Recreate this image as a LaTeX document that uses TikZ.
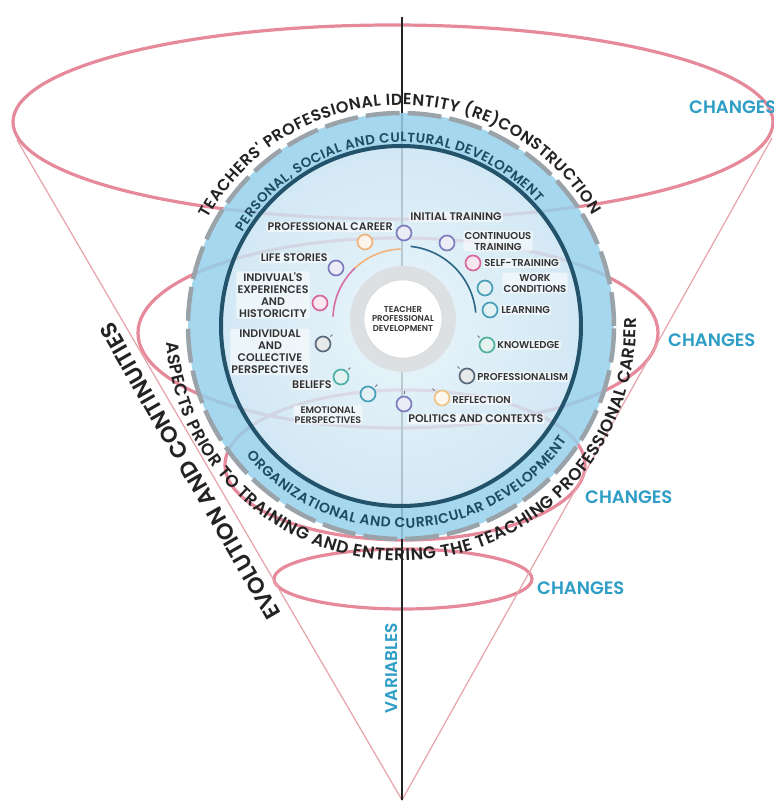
\documentclass[tikz,border=0pt]{standalone}
\usepackage{fontspec}
\setmainfont{Poppins}
\newfontfamily\semib{Poppins SemiBold}
\usetikzlibrary{decorations.text}

\definecolor{ringred}{HTML}{E6899A}
\definecolor{conered}{HTML}{E6A4AA}
\definecolor{bandblue}{HTML}{96D0EC}
\definecolor{innerblue}{HTML}{C9E4F3}
\definecolor{innerpale}{HTML}{E6F3FA}
\definecolor{darkring}{HTML}{22536B}
\definecolor{dashgrey}{HTML}{9BA3AA}
\definecolor{navytext}{HTML}{1D4B63}
\definecolor{inktext}{HTML}{232323}
\definecolor{changeteal}{HTML}{2E9EC6}
\definecolor{labelink}{HTML}{333333}
\definecolor{coregrey}{HTML}{DDE0E2}
\definecolor{arcorange}{HTML}{F2B27C}
\definecolor{arcpink}{HTML}{D46DA6}
\definecolor{arcteal}{HTML}{2C6686}
\definecolor{dotorange}{HTML}{EFB47F}
\definecolor{dotpurple}{HTML}{7C7EBE}
\definecolor{dotpink}{HTML}{D8679C}
\definecolor{dotslate}{HTML}{5C6A7C}
\definecolor{dotteal}{HTML}{4DB0A6}
\definecolor{dotblue}{HTML}{479FB8}
\definecolor{dotgreen}{HTML}{52B09C}
\definecolor{dotyellow}{HTML}{EEC684}

\tikzset{
  ringline/.style={draw=ringred, line width=3.2pt},
  coneline/.style={draw=conered, line width=1.2pt},
  changes/.style={font=\semib\fontsize{18}{18}\selectfont, text=changeteal, anchor=west, inner sep=0pt},
  itemdot/.style={circle, draw=#1, fill=#1!15!white, line width=1.7pt, minimum size=15pt, inner sep=0pt},
  itemlabel/.style={font=\semib\fontsize{11}{12}\selectfont, text=labelink, fill=white, fill opacity=0.55, text opacity=1, inner sep=1.2pt, rounded corners=2pt, align=center},
  smalllabel/.style={itemlabel, font=\semib\fontsize{10}{11}\selectfont},
  tickmark/.style={draw=labelink!70, line width=0.8pt},
  arcband/.style={decorate, decoration={text along path, text align={fit to path}, text color=#1}},
}

\begin{document}
\begin{tikzpicture}[x=1pt, y=1pt]
\useasboundingbox (0,0) rectangle (774,804);
\fill[white] (0,0) rectangle (774,804);

% axis and cone
\coordinate (apex) at (402,4);
\coordinate (axtop) at (402,787);
\coordinate (conel) at (17,664);
\coordinate (coner) at (772,666);
\coordinate (O) at (401,478);
\coordinate (core) at (403,485);

% the four change rings
\draw[ringline] (393,682) ellipse [x radius=380pt, y radius=97pt];
\draw[ringline] (398,471) ellipse [x radius=260pt, y radius=95pt];
\draw[ringline] (405,339) ellipse [x radius=180pt, y radius=75pt];
\draw[ringline] (403,225) ellipse [x radius=129pt, y radius=30pt];
\draw[coneline] (conel) -- (apex) -- (coner);
\draw[inktext, line width=2pt] (axtop) -- (apex);

% central disc
\fill[bandblue, opacity=0.85, even odd rule] (O) circle[radius=213pt] (O) circle[radius=180pt];
\shade[inner color=innerpale, outer color=innerblue, opacity=0.82] (O) circle[radius=180pt];
\draw[dashgrey, line width=4.5pt, dash pattern=on 34pt off 8pt] (O) circle[radius=213pt];
\draw[darkring, line width=4pt] (O) circle[radius=180pt];

% core
\fill[coregrey] (core) circle[radius=53pt];
\node[circle, fill=white, draw=gray!30, line width=0.6pt, minimum size=78pt, inner sep=0pt,
      font=\semib\fontsize{8.5}{9.5}\selectfont, text=labelink, align=center] (tpd) at (core)
      {TEACHER\\PROFESSIONAL\\DEVELOPMENT};

% time arcs
\draw[arcorange, line width=1.6pt] (core) ++(92:70pt) arc[start angle=92, end angle=133, radius=70pt];
\draw[arcpink, line width=1.6pt] (core) ++(133:70pt) arc[start angle=133, end angle=178, radius=70pt];
\draw[arcteal, line width=1.6pt] (core) ++(84:73pt) arc[start angle=84, end angle=5, radius=73pt];

% items
\node[itemdot=dotorange] (pc) at (365,562) {};
\node[itemdot=dotpurple] (ls) at (336,536) {};
\node[itemdot=dotpink] (ie) at (320,501) {};
\node[itemdot=dotslate] (ic) at (323,460) {};
\node[itemdot=dotteal] (be) at (341,427) {};
\node[itemdot=dotblue] (em) at (368,410) {};
\node[itemdot=dotpurple] (po) at (404,400) {};
\node[itemdot=dotpurple] (it) at (404,571) {};
\node[itemdot=dotpurple] (ct) at (447,561) {};
\node[itemdot=dotpink] (st) at (473,541) {};
\node[itemdot=dotblue] (wc) at (485,516) {};
\node[itemdot=dotblue] (le) at (490,494) {};
\node[itemdot=dotgreen] (kn) at (487,459) {};
\node[itemdot=dotslate] (pr) at (467,428) {};
\node[itemdot=dotyellow] (re) at (442,406) {};

\draw[tickmark] (ic.45) ++(1.5pt,1.5pt) -- ++(2pt,2pt);
\draw[tickmark] (be.45) ++(1.5pt,1.5pt) -- ++(2pt,2pt);
\draw[tickmark] (em.45) ++(1.5pt,1.5pt) -- ++(2pt,2pt);
\draw[tickmark] (po.90) ++(0,2pt) -- ++(0,2.5pt);
\draw[tickmark] (kn.135) ++(-1.5pt,1.5pt) -- ++(-2pt,2pt);
\draw[tickmark] (pr.135) ++(-1.5pt,1.5pt) -- ++(-2pt,2pt);
\draw[tickmark] (re.135) ++(-1.5pt,1.5pt) -- ++(-2pt,2pt);

% item labels
\node[itemlabel, anchor=east] (pcl) at (394,577) {PROFESSIONAL CAREER};
\node[itemlabel, anchor=east] (lsl) at (329,546) {LIFE STORIES};
\node[itemlabel] (iel) at (273,509) {INDIVUAL'S\\EXPERIENCES\\AND\\HISTORICITY};
\node[itemlabel] (icl) at (270,452) {INDIVIDUAL\\AND\\COLLECTIVE\\PERSPECTIVES};
\node[itemlabel, anchor=east] (bel) at (333,419) {BELIEFS};
\node[itemlabel, font=\semib\fontsize{9.5}{10}\selectfont] (eml) at (328,389) {EMOTIONAL\\PERSPECTIVES};
\node[itemlabel, anchor=west] (pol) at (407,385) {POLITICS AND CONTEXTS};
\node[itemlabel, anchor=west] (itl) at (409,587) {INITIAL TRAINING};
\node[smalllabel] (ctl) at (498,563) {CONTINUOUS\\TRAINING};
\node[smalllabel, anchor=west] (stl) at (483,541) {SELF-TRAINING};
\node[smalllabel] (wcl) at (535,521) {WORK\\CONDITIONS};
\node[smalllabel, anchor=west] (lel) at (500,494) {LEARNING};
\node[smalllabel, anchor=west] (knl) at (496,459) {KNOWLEDGE};
\node[smalllabel, anchor=west] (prl) at (476,427) {PROFESSIONALISM};
\node[smalllabel, anchor=west] (rel) at (451,404) {REFLECTION};

% curved titles
\path[arcband=inktext, decoration={text={|\semib\fontsize{16}{18}\selectfont|TEACHERS' PROFESSIONAL IDENTITY (RE)CONSTRUCTION}}]
  (O) ++(151:221pt) arc[start angle=151, end angle=30, radius=221pt];
\path[arcband=navytext, decoration={text={|\semib\fontsize{13.5}{16}\selectfont|PERSONAL, SOCIAL AND CULTURAL DEVELOPMENT}}]
  (O) ++(149.5:184pt) arc[start angle=149.5, end angle=42, radius=184pt];
\path[arcband=inktext, decoration={text={|\semib\fontsize{17}{19}\selectfont|ASPECTS PRIOR TO TRAINING AND ENTERING THE TEACHING PROFESSIONAL CAREER}}]
  (O) ++(184:235pt) arc[start angle=184, end angle=362, radius=235pt];
\path[arcband=navytext, decoration={text={|\semib\fontsize{14}{16}\selectfont|ORGANIZATIONAL AND CURRICULAR DEVELOPMENT}}]
  (O) ++(220:202pt) arc[start angle=220, end angle=325.5, radius=202pt];

% side labels
\node[changes] (ch1) at (689,697) {CHANGES};
\node[changes] (ch2) at (668,464) {CHANGES};
\node[changes] (ch3) at (585,307) {CHANGES};
\node[changes] (ch4) at (537,216) {CHANGES};
\node[font=\semib\fontsize{17}{17}\selectfont, text=changeteal, rotate=90, inner sep=0pt] (var) at (392,136) {VARIABLES};
\node[font=\semib\fontsize{22.5}{23}\selectfont, text=inktext, rotate=120, inner sep=0pt] (evo) at (190,333) {EVOLUTION AND CONTINUITIES};
\end{tikzpicture}
\end{document}
